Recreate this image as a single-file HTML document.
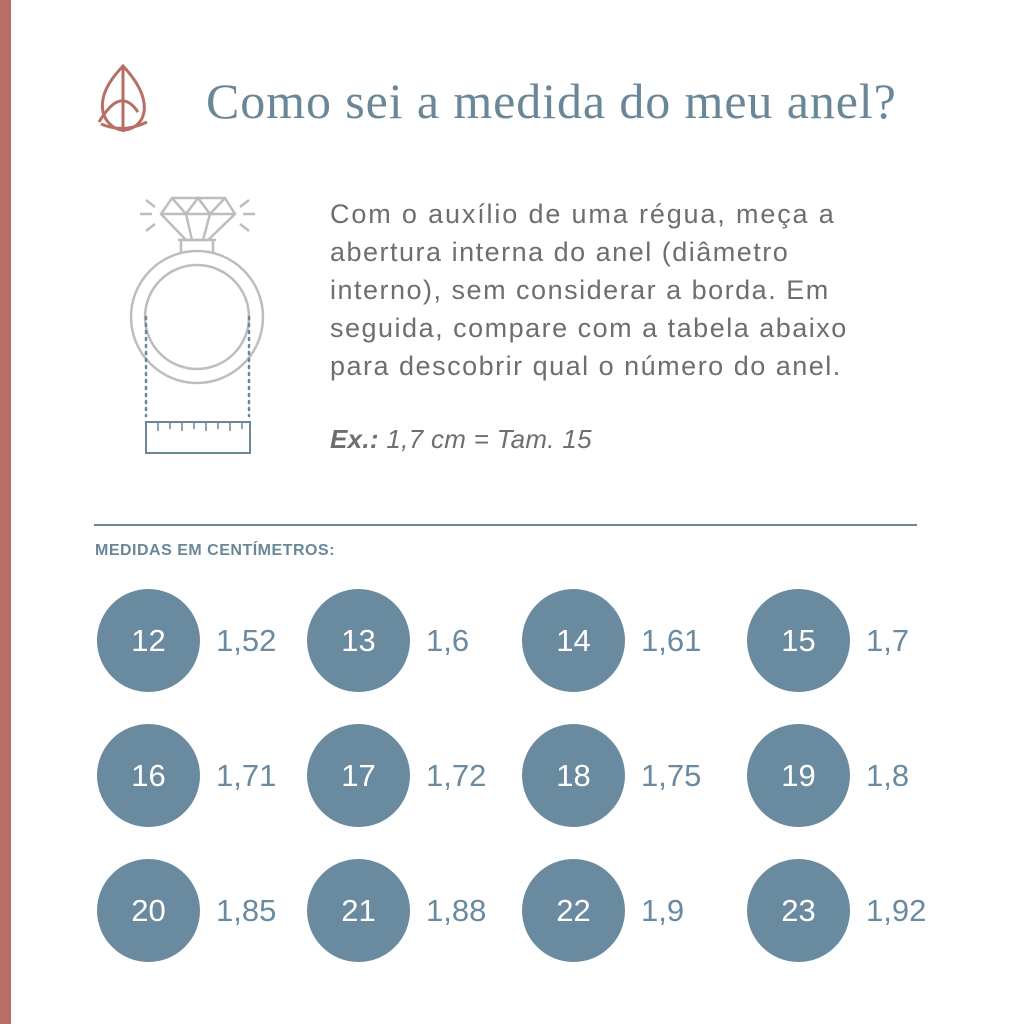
<!DOCTYPE html>
<html><head><style>
body{margin:0;width:1024px;height:1024px;background:#fff;position:relative;overflow:hidden;font-family:"Liberation Sans",sans-serif}
.bar{position:absolute;left:0;top:0;width:11px;height:1024px;background:#b86e66}
.t{position:absolute;left:206px;top:72px;font-family:"Liberation Serif",serif;font-size:50px;letter-spacing:0.9px;color:#6a8799;white-space:nowrap}
.p{position:absolute;left:330px;top:195px;font-size:27px;letter-spacing:1.5px;line-height:38px;color:#6e6e6e;white-space:nowrap}
.ex{position:absolute;left:330px;top:424px;font-size:26px;letter-spacing:0.3px;color:#6e6e6e;font-style:italic}
.hr{position:absolute;left:94px;top:524px;width:823px;height:2px;background:#6a8799}
.h{position:absolute;left:95px;top:542px;font-size:16px;font-weight:bold;color:#6a8799;letter-spacing:0.5px}
.c{position:absolute;width:103px;height:103px;border-radius:50%;background:#6a8aa0;color:#fff;font-size:31px;text-align:center;line-height:103px}
.v{position:absolute;font-size:31px;color:#6a8aa0;line-height:103px}
</style></head><body>
<div class="bar"></div>
<svg style="position:absolute;left:0;top:0" width="300" height="470">
<g fill="none" stroke="#b86e66" stroke-width="3">
<path d="M123 66 C108 82 100 96 103 112 C106 124 116 130 123 130 C132 130 142 124 144 112 C146 98 138 82 123 66Z"/>
<path d="M123 66 V132 M99 122 C110 104 123 90 138 112 M101 124 C115 130 131 130 147 122"/>
</g>
<g fill="none" stroke="#bdbdbd" stroke-width="2.5">
<circle cx="197" cy="317" r="66"/><circle cx="197" cy="317" r="52"/>
<path d="M181 240 V252 M213 240 V252 M178 240 H216"/>
<path d="M172 198 H225 L235 214 L208 240 H186 L161 214Z M161 214 H235 M172 198 L186 214 L198 198 L210 214 L225 198 M186 214 L192 240 M210 214 L203 240"/>
<path d="M140 214 H152 M243 214 H255 M146 200 L155 207 M249 200 L240 207 M146 231 L155 224 M249 231 L240 224"/>
</g>
<g stroke="#6a8799" stroke-width="2.5" fill="none">
<line x1="146" y1="317" x2="146" y2="416" stroke-dasharray="2 5" stroke-linecap="round"/>
<line x1="249" y1="317" x2="249" y2="416" stroke-dasharray="2 5" stroke-linecap="round"/>
<rect x="146" y="422" width="104" height="31" stroke-width="2"/>
<path d="M158 423 v8 M170 423 v6 M182 423 v8 M194 423 v6 M206 423 v8 M218 423 v6 M230 423 v8 M242 423 v6" stroke-width="1.5"/>
</g>
</svg>
<div class="t">Como sei a medida do meu anel?</div>
<div class="p"><span style="letter-spacing:1.85px">Com o auxílio de uma régua, meça a</span><br>abertura interna do anel (diâmetro<br>interno), sem considerar a borda. Em<br>seguida, compare com a tabela abaixo<br>para descobrir qual o número do anel.</div>
<div class="ex"><b>Ex.:</b> 1,7 cm = Tam. 15</div>
<div class="hr"></div>
<div class="h">MEDIDAS EM CENTÍMETROS:</div>
<div class="c" style="left:97px;top:589px">12</div><div class="v" style="left:216px;top:589px">1,52</div>
<div class="c" style="left:307px;top:589px">13</div><div class="v" style="left:426px;top:589px">1,6</div>
<div class="c" style="left:522px;top:589px">14</div><div class="v" style="left:641px;top:589px">1,61</div>
<div class="c" style="left:747px;top:589px">15</div><div class="v" style="left:866px;top:589px">1,7</div>
<div class="c" style="left:97px;top:724px">16</div><div class="v" style="left:216px;top:724px">1,71</div>
<div class="c" style="left:307px;top:724px">17</div><div class="v" style="left:426px;top:724px">1,72</div>
<div class="c" style="left:522px;top:724px">18</div><div class="v" style="left:641px;top:724px">1,75</div>
<div class="c" style="left:747px;top:724px">19</div><div class="v" style="left:866px;top:724px">1,8</div>
<div class="c" style="left:97px;top:859px">20</div><div class="v" style="left:216px;top:859px">1,85</div>
<div class="c" style="left:307px;top:859px">21</div><div class="v" style="left:426px;top:859px">1,88</div>
<div class="c" style="left:522px;top:859px">22</div><div class="v" style="left:641px;top:859px">1,9</div>
<div class="c" style="left:747px;top:859px">23</div><div class="v" style="left:866px;top:859px">1,92</div>
</body></html>
